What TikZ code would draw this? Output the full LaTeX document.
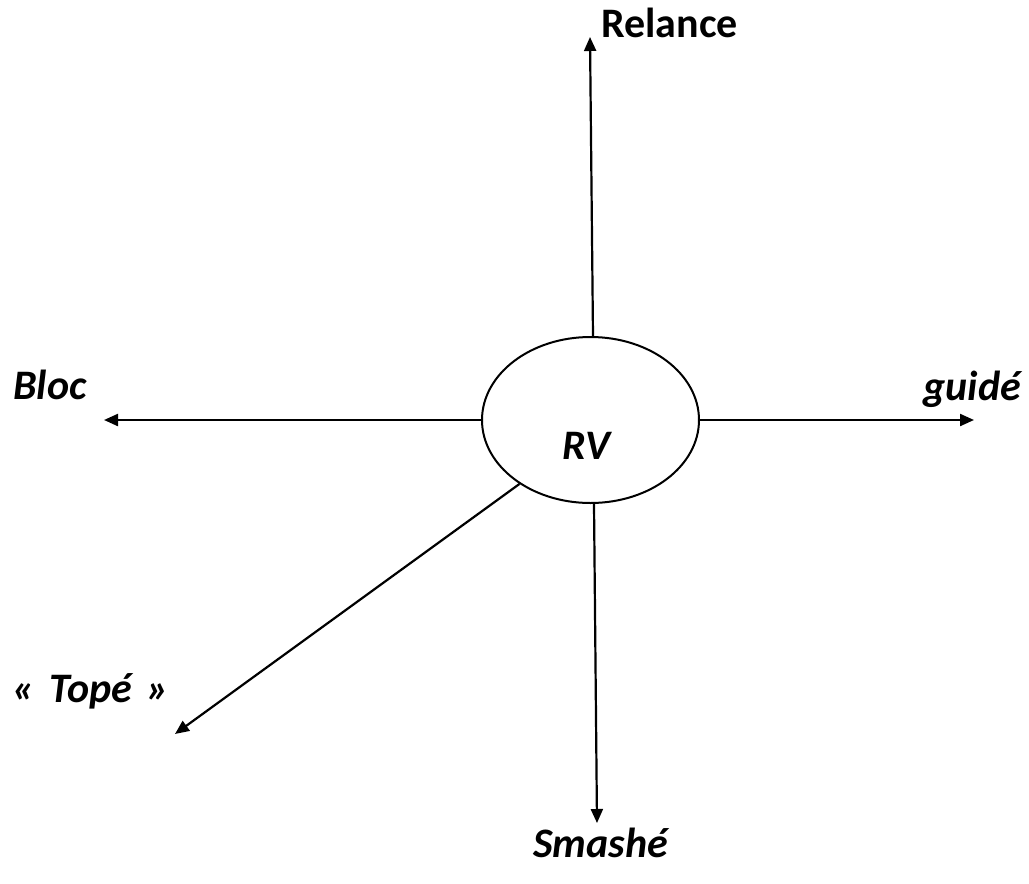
\documentclass[tikz,border=0pt]{standalone}
\usepackage{fontspec}
\setmainfont{Carlito}
\usetikzlibrary{shapes.geometric,arrows.meta}
\begin{document}
\begin{tikzpicture}[x=1pt,y=-1pt,
  conn/.style={line width=2.2pt,-{Triangle[length=14pt,width=12pt]}},
  lbl/.style={inner sep=0pt,anchor=base west,font=\fontsize{42}{50}\selectfont\bfseries\itshape},
  lblup/.style={inner sep=0pt,anchor=base west,font=\fontsize{42}{50}\selectfont\bfseries}]
\useasboundingbox (0,0) rectangle (1029,884);
\node[ellipse,draw,line width=2pt,inner sep=0pt,minimum width=217pt,minimum height=166pt] (rv) at (590.5,420) {};
\node[lbl] (rvt) at (562,459) {RV};
\coordinate (tN) at (590,37);
\coordinate (tW) at (104,420);
\coordinate (tE) at (974,420);
\coordinate (tS) at (597,823);
\coordinate (tSW) at (175,734);
\draw[conn] ([xshift=2.5pt]rv.north) -- (tN);
\draw[conn] (rv.west) -- (tW);
\draw[conn] (rv.east) -- (tE);
\draw[conn] ([xshift=3.5pt]rv.south) -- (tS);
\draw[conn] (rv.222) -- (tSW);
\node[lblup] (rel) at (601,37) {Relance};
\node[lbl] (bloc) at (13,399) {Bloc};
\node[lbl,anchor=base east] (guide) at (1021,400) {guidé};
\node[lbl] (tope) at (12,702) {«\hspace{0.12em} Topé\hspace{0.12em} »};
\node[lbl] (smash) at (533,857) {Smashé};
\end{tikzpicture}
\end{document}
